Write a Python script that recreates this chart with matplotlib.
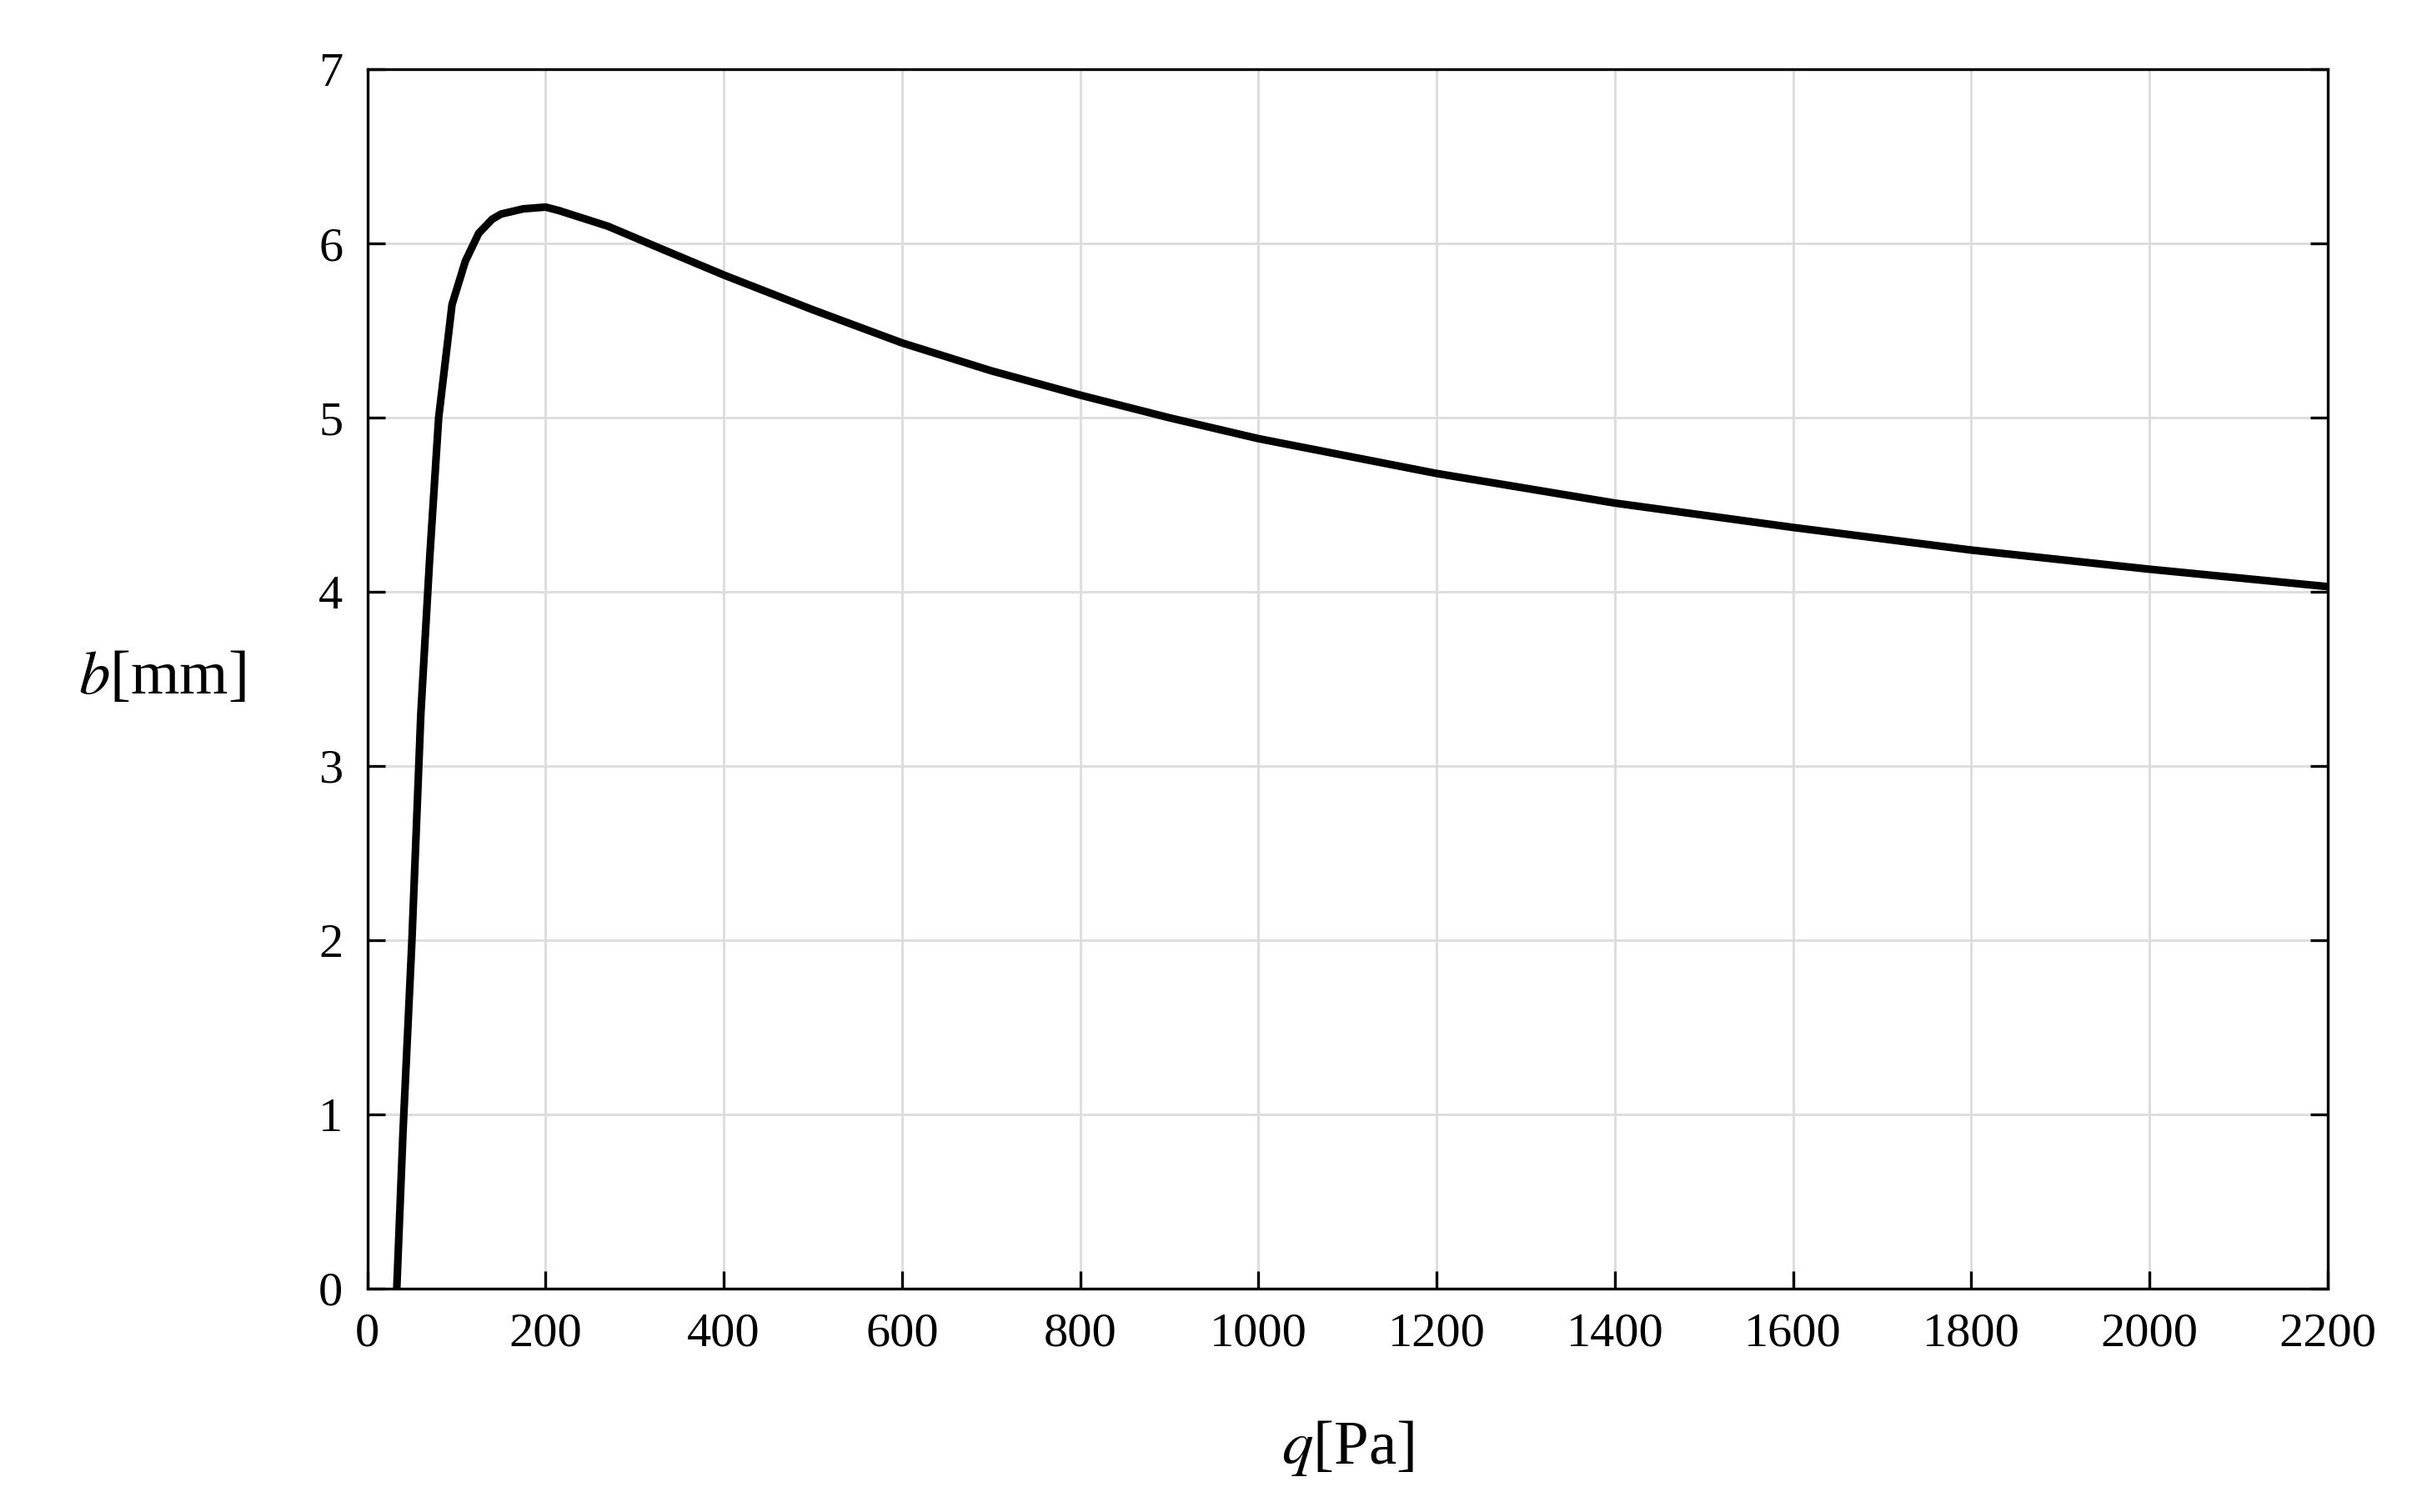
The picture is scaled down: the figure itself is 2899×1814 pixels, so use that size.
import matplotlib.pyplot as plt

# data
q = [33, 40, 50, 60, 70, 80, 95, 110, 125, 140, 150, 175, 200, 215, 270, 330,
     400, 500, 600, 700, 800, 900, 1000, 1200, 1400, 1600, 1800, 2000, 2200]
b = [0.0, 0.9, 2.0, 3.3, 4.2, 5.0, 5.65, 5.9, 6.06, 6.14, 6.17, 6.2, 6.21, 6.19,
     6.1, 5.97, 5.82, 5.62, 5.43, 5.27, 5.13, 5.0, 4.88, 4.68, 4.51, 4.37, 4.24, 4.13, 4.03]

plt.rcParams['font.family'] = ['Liberation Serif', 'DejaVu Serif']
plt.rcParams['mathtext.fontset'] = 'stix'

fig = plt.figure(figsize=(2899 / 300, 1814 / 300), dpi=300)
ax = fig.add_axes([0.152, 0.148, 0.811, 0.806])
ax.plot(q, b, color='black', linewidth=2.2)

ax.set_xlim(0, 2200)
ax.set_ylim(0, 7)
ax.set_xticks(range(0, 2201, 200))
ax.set_yticks(range(0, 8))
ax.grid(True, color='#dddddd', linewidth=0.7)
ax.tick_params(direction='in', right=True, top=False, labelsize=14, length=5, width=0.8, pad=7)
for s in ax.spines.values():
    s.set_linewidth(0.8)

ax.set_xlabel(r'$q$[Pa]', fontsize=18, labelpad=18)
ax.set_ylabel(r'$b$[mm]', fontsize=18, rotation=0, labelpad=45, va='center')

fig.savefig('out.png', dpi=300)
